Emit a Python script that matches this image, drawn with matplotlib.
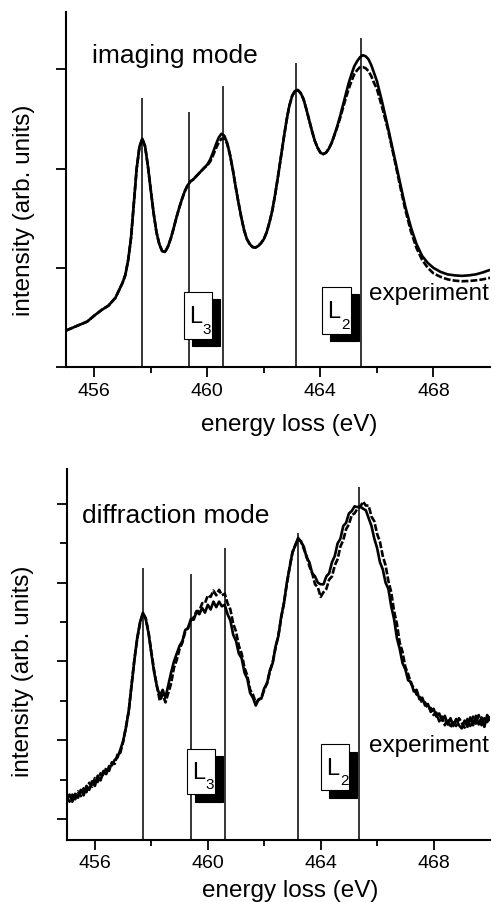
import numpy as np
import matplotlib
matplotlib.use("Agg")
import matplotlib.pyplot as plt
import matplotlib.patches as patches
import matplotlib.transforms as mtransforms

plt.rcParams['font.family'] = ['Liberation Sans', 'DejaVu Sans']

# ---- imaging mode (top panel) ----
top_energy = np.round(np.concatenate([np.arange(455.0, 456.9, 0.25),
                                      np.arange(457.0, 465.95, 0.1),
                                      np.arange(466.0, 467.9, 0.2),
                                      np.arange(468.0, 470.01, 0.25)]), 2)
top_solid = [0.37, 0.40, 0.43, 0.46, 0.52, 0.575, 0.62, 0.70,
             0.85, 0.93, 1.08, 1.30, 1.65, 2.00, 2.22, 2.30, 2.22, 2.02,
             1.78, 1.55, 1.36, 1.24, 1.17, 1.16, 1.21, 1.29, 1.39, 1.50,
             1.60, 1.69, 1.77, 1.83, 1.87, 1.89, 1.92, 1.95, 1.98, 2.01,
             2.04, 2.09, 2.16, 2.24, 2.31, 2.35, 2.33, 2.26, 2.14, 1.99,
             1.82, 1.66, 1.51, 1.38, 1.29, 1.24, 1.21, 1.205, 1.22, 1.25,
             1.29, 1.36, 1.46, 1.58, 1.74, 1.92, 2.11, 2.30, 2.48, 2.63,
             2.73, 2.78, 2.79, 2.76, 2.70, 2.60, 2.49, 2.38, 2.28, 2.21,
             2.16, 2.145, 2.16, 2.20, 2.26, 2.34, 2.43, 2.53, 2.64, 2.75,
             2.86, 2.95, 3.03, 3.08, 3.12, 3.14, 3.13, 3.10, 3.04, 2.96,
             2.88, 2.65, 2.40, 2.14, 1.88, 1.62, 1.41, 1.24, 1.12, 1.05,
             1.00, 0.96, 0.935, 0.925, 0.92, 0.925, 0.935, 0.955, 0.98]
top_dashed = [0.37, 0.40, 0.43, 0.46, 0.52, 0.575, 0.62, 0.70,
              0.85, 0.93, 1.08, 1.30, 1.65, 2.00, 2.22, 2.30, 2.22, 2.02,
              1.78, 1.55, 1.36, 1.24, 1.17, 1.16, 1.21, 1.29, 1.39, 1.50,
              1.60, 1.69, 1.77, 1.83, 1.87, 1.89, 1.92, 1.95, 1.98, 2.01,
              2.03, 2.07, 2.13, 2.20, 2.26, 2.30, 2.30, 2.25, 2.14, 1.99,
              1.82, 1.66, 1.51, 1.38, 1.29, 1.24, 1.21, 1.205, 1.22, 1.25,
              1.29, 1.36, 1.46, 1.58, 1.74, 1.92, 2.11, 2.30, 2.48, 2.63,
              2.73, 2.78, 2.79, 2.76, 2.70, 2.60, 2.49, 2.38, 2.28, 2.21,
              2.16, 2.145, 2.16, 2.20, 2.26, 2.34, 2.42, 2.51, 2.61, 2.71,
              2.80, 2.88, 2.95, 2.99, 3.02, 3.02, 3.01, 2.98, 2.93, 2.86,
              2.80, 2.60, 2.38, 2.12, 1.85, 1.59, 1.37, 1.20, 1.08, 1.00,
              0.945, 0.91, 0.885, 0.872, 0.866, 0.868, 0.875, 0.885, 0.90]
top_lines_x = [457.7, 459.35, 460.55, 463.15, 465.45]
top_lines_h = [2.71, 2.565, 2.83, 3.06, 3.31]

# ---- diffraction mode (bottom panel), 0.1 eV steps ----
bot_energy = np.round(np.arange(455.0, 470.05, 0.1), 1)
bot_solid = [0.25, 0.31, 0.22, 0.32, 0.27, 0.37, 0.30, 0.42, 0.37, 0.48,
             0.42, 0.55, 0.49, 0.61, 0.57, 0.67, 0.68, 0.75, 0.78, 0.88,
             0.99, 1.16, 1.38, 1.70, 2.02, 2.30, 2.50, 2.62, 2.54, 2.36,
             2.10, 1.86, 1.68, 1.56, 1.64, 1.54, 1.70, 1.86, 2.00, 2.10,
             2.20, 2.26, 2.40, 2.42, 2.54, 2.53, 2.63, 2.60, 2.68, 2.62,
             2.72, 2.66, 2.76, 2.69, 2.76, 2.70, 2.72, 2.60, 2.52, 2.34,
             2.26, 2.10, 2.04, 1.86, 1.78, 1.60, 1.54, 1.44, 1.52, 1.53,
             1.66, 1.72, 1.89, 1.98, 2.19, 2.32, 2.57, 2.74, 3.00, 3.19,
             3.39, 3.47, 3.57, 3.52, 3.46, 3.32, 3.26, 3.12, 3.08, 3.00,
             2.98, 2.98, 3.08, 3.12, 3.26, 3.34, 3.50, 3.56, 3.72, 3.76,
             3.88, 3.91, 3.97, 3.96, 3.97, 3.94, 3.92, 3.82, 3.72, 3.56,
             3.44, 3.26, 3.17, 3.00, 2.92, 2.70, 2.54, 2.30, 2.16, 1.98,
             1.90, 1.76, 1.74, 1.62, 1.64, 1.52, 1.54, 1.44, 1.46, 1.36,
             1.40, 1.30, 1.34, 1.25, 1.31, 1.20, 1.28, 1.18, 1.27, 1.19,
             1.15, 1.25, 1.17, 1.29, 1.19, 1.31, 1.20, 1.29, 1.17, 1.32,
             1.26]
bot_dashed = [0.28, 0.22, 0.31, 0.25, 0.35, 0.29, 0.39, 0.34, 0.46, 0.41,
              0.52, 0.47, 0.58, 0.54, 0.65, 0.61, 0.72, 0.70, 0.82, 0.84,
              0.98, 1.17, 1.37, 1.71, 2.03, 2.29, 2.49, 2.61, 2.55, 2.37,
              2.12, 1.88, 1.68, 1.50, 1.58, 1.48, 1.60, 1.72, 1.92, 2.02,
              2.16, 2.24, 2.38, 2.43, 2.52, 2.56, 2.64, 2.64, 2.74, 2.74,
              2.84, 2.82, 2.90, 2.84, 2.91, 2.84, 2.86, 2.74, 2.66, 2.48,
              2.38, 2.20, 2.10, 1.92, 1.82, 1.64, 1.58, 1.48, 1.51, 1.54,
              1.64, 1.73, 1.87, 1.99, 2.17, 2.33, 2.55, 2.75, 2.98, 3.20,
              3.38, 3.48, 3.55, 3.53, 3.43, 3.34, 3.21, 3.12, 2.98, 2.94,
              2.82, 2.88, 2.92, 3.04, 3.08, 3.22, 3.30, 3.46, 3.54, 3.68,
              3.74, 3.86, 3.88, 3.94, 3.96, 4.03, 3.98, 3.98, 3.84, 3.78,
              3.62, 3.52, 3.34, 3.22, 3.02, 2.88, 2.64, 2.48, 2.24, 2.12,
              1.93, 1.84, 1.72, 1.66, 1.58, 1.56, 1.47, 1.48, 1.40, 1.41,
              1.32, 1.35, 1.24, 1.30, 1.19, 1.27, 1.16, 1.25, 1.18, 1.28,
              1.22, 1.16, 1.27, 1.18, 1.30, 1.21, 1.32, 1.19, 1.28, 1.23,
              1.31]
bot_lines_x = [457.7, 459.4, 460.6, 463.2, 465.35]
bot_lines_h = [3.19, 3.11, 3.44, 3.63, 4.22]

xticks_major = [456, 460, 464, 468]
xticks_minor = [458, 462, 466]

W, H = 495, 903
fig = plt.figure(figsize=(W / 100, H / 100), dpi=100)


def axes_px(left, top, right, bottom):
    return fig.add_axes([left / W, 1 - bottom / H, (right - left) / W, (bottom - top) / H])


def label_box(ax, x0, y0, w, h, sub):
    # white box with black drop shadow, offsets in pixels
    shadow_tr = mtransforms.offset_copy(ax.transData, fig=fig, x=8, y=-7.5, units='dots')
    ax.add_patch(patches.Rectangle((x0, y0), w, h, transform=shadow_tr,
                                   facecolor='black', edgecolor='black', lw=0.8, zorder=5))
    ax.add_patch(patches.Rectangle((x0, y0), w, h, facecolor='white',
                                   edgecolor='black', lw=0.8, zorder=6))
    tr_l = mtransforms.offset_copy(ax.transData, fig=fig, x=5.5, y=16.5, units='dots')
    tr_s = mtransforms.offset_copy(ax.transData, fig=fig, x=19, y=6, units='dots')
    ax.text(x0, y0, 'L', transform=tr_l, fontsize=17, va='baseline', ha='left', zorder=7)
    ax.text(x0, y0, sub, transform=tr_s, fontsize=11, va='baseline', ha='left', zorder=7)


def style_panel(ax, ylim, major_y, minor_y):
    ax.set_xlim(455, 470)
    ax.set_ylim(*ylim)
    for s in ['top', 'right']:
        ax.spines[s].set_visible(False)
    for s in ['left', 'bottom']:
        ax.spines[s].set_linewidth(1.5)
    ax.set_xticks(xticks_major)
    ax.set_xticks(xticks_minor, minor=True)
    ax.set_yticks(major_y)
    ax.set_yticks(minor_y, minor=True)
    ax.set_yticklabels([])
    ax.tick_params(which='major', direction='out', length=7.5, width=1.3,
                   labelsize=14, pad=3)
    ax.tick_params(which='minor', direction='out', length=4, width=1.3)
    ax.tick_params(axis='y', which='minor', length=5)


def draw(ax, energy, solid, dashed, lx, lh):
    ymin = ax.get_ylim()[0]
    ax.plot(energy, solid, color='black', lw=1.9, solid_joinstyle='round')
    ax.plot(energy, dashed, color='black', lw=1.9, linestyle=(0, (2.6, 0.8)))
    ax.vlines(lx, ymin, lh, color='black', lw=1.1, zorder=4)


ax1 = axes_px(66, 13, 490, 368.3)
style_panel(ax1, (0, 3.575), [0, 1, 2, 3], [])
draw(ax1, top_energy, top_solid, top_dashed, top_lines_x, top_lines_h)
label_box(ax1, 459.16, 0.289, 1.02, 0.469, '3')
label_box(ax1, 464.06, 0.339, 1.04, 0.470, '2')

ax2 = axes_px(66.7, 470, 490, 840.7)
style_panel(ax2, (-0.263, 4.444), [0, 1, 2, 3, 4], [0.5, 1.5, 2.5, 3.5])
draw(ax2, bot_energy, bot_solid, bot_dashed, bot_lines_x, bot_lines_h)
label_box(ax2, 459.25, 0.316, 0.99, 0.579, '3')
label_box(ax2, 464.01, 0.367, 0.99, 0.582, '2')


def ftext(x, y, s, **kw):
    fig.text(x / W, 1 - y / H, s, **kw)


ftext(91.7, 63.3, 'imaging mode', fontsize=19, va='baseline')
ftext(81.7, 522.7, 'diffraction mode', fontsize=19, va='baseline')
ftext(369, 300, 'experiment', fontsize=17.5, va='baseline')
ftext(369.3, 751.7, 'experiment', fontsize=17.5, va='baseline')
ftext(289, 431, 'energy loss (eV)', fontsize=17.5, va='baseline', ha='center')
ftext(290, 897, 'energy loss (eV)', fontsize=17.5, va='baseline', ha='center')
ftext(24, 210, 'intensity (arb. units)', fontsize=17.5, rotation=90, va='center', ha='center')
ftext(23.5, 671, 'intensity (arb. units)', fontsize=17.5, rotation=90, va='center', ha='center')

fig.savefig('out.png', dpi=100)
